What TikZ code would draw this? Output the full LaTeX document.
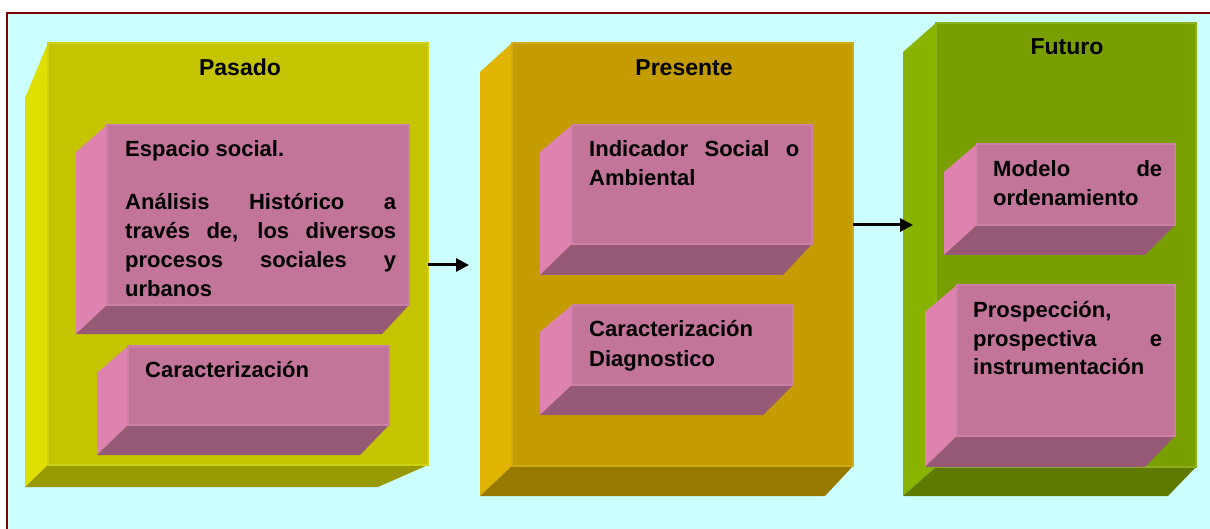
\documentclass[tikz,border=0pt]{standalone}
\usepackage{fontspec}
\setmainfont{Liberation Sans}
\usetikzlibrary{arrows.meta}

% panel colours: F front, L left side, B bottom, E front rim
\definecolor{pasF}{RGB}{196,196,0}
\definecolor{pasL}{RGB}{224,224,0}
\definecolor{pasB}{RGB}{153,153,0}
\definecolor{pasE}{RGB}{208,208,20}
\definecolor{preF}{RGB}{196,156,0}
\definecolor{preL}{RGB}{224,180,0}
\definecolor{preB}{RGB}{153,122,0}
\definecolor{preE}{RGB}{208,170,20}
\definecolor{futF}{RGB}{120,158,0}
\definecolor{futL}{RGB}{136,180,0}
\definecolor{futB}{RGB}{94,122,0}
\definecolor{futE}{RGB}{140,176,30}
\definecolor{pnkF}{RGB}{194,116,153}
\definecolor{pnkL}{RGB}{222,131,176}
\definecolor{pnkB}{RGB}{150,90,118}
\definecolor{pnkE}{RGB}{204,128,165}
\definecolor{skyBg}{RGB}{204,255,255}
\definecolor{frameRed}{RGB}{128,0,0}

% a slab: front face plus left and bottom sides
% geometry: front x1/y1/x2/y2, back left x / diagonal end y, back right x / back bottom y
\newcommand\slab[3]{%
  \foreach \xa/\ya/\xb/\yb/\xl/\yl/\xr/\yr in {#3}{%
    \fill[#2L] (\xa,\ya) -- (\xl,\yl) -- (\xl,\yr) -- (\xa,\yb) -- cycle;
    \fill[#2B] (\xa,\yb) -- (\xl,\yr) -- (\xr,\yr) -- (\xb,\yb) -- cycle;
    \node[face, fill=#2F, draw=#2E, minimum width={\xb-\xa}, minimum height={\yb-\ya}]
      (#1) at ({(\xa+\xb)/2},{(\ya+\yb)/2}) {};
  }}

\begin{document}
\begin{tikzpicture}[x=1pt,y=-1pt,
  face/.style={rectangle, inner sep=0pt, outer sep=0pt, line width=1.5pt},
  title/.style={anchor=base, inner sep=0pt, font=\fontsize{23}{28}\selectfont\bfseries},
  body/.style={anchor=base west, inner sep=0pt, font=\fontsize{22}{29}\selectfont\bfseries},
  arr/.style={line width=3pt, -{Triangle[length=13pt,width=13pt]}}]

% page and frame
\fill[white] (0,0) rectangle (1210,529);
\useasboundingbox (0,0) rectangle (1210,529);
\fill[skyBg] (8,14) rectangle (1210,529);
\draw[frameRed, line width=2.5pt] (7,529) -- (7,13) -- (1210,13);

% three stages
\slab{pas}{pas}{48/43/428/465/25/98/378/487}
\slab{pre}{pre}{512/43/853/466/480/72/825/496}
\slab{fut}{fut}{936/23/1196/467/903/52/1168/496}

% inner blocks
\slab{esp}{pnk}{107/125/409/305/76/152/382/334}
\slab{car}{pnk}{128/346/389/425/97/373/360/455}
\slab{ind}{pnk}{572/125/812/244/540/152/783/275}
\slab{dia}{pnk}{572/305/793/385/540/332/763/415}
\slab{mod}{pnk}{977/144/1175/225/944/172/1145/255}
\slab{pro}{pnk}{957/285/1175/436/925/312/1145/467}

% titles
\node[title] (tpas) at (240,76) {Pasado};
\node[title] (tpre) at (684,76) {Presente};
\node[title] (tfut) at (1067,55) {Futuro};

% block texts
\node[body] (xesp) at (125,157) {\parbox[t]{271pt}{Espacio social.\\[24pt]
  \makebox[271pt][s]{Análisis Histórico a}\\
  \makebox[271pt][s]{través de, los diversos}\\
  \makebox[271pt][s]{procesos sociales y}\\
  urbanos}};
\node[body] (xcar) at (145,377) {Caracterización};
\node[body] (xind) at (589,157) {\parbox[t]{210pt}{%
  \makebox[210pt][s]{Indicador Social o}\\
  Ambiental}};
\node[body] (xdia) at (589,337) {\parbox[t]{210pt}{Caracterización\\
  Diagnostico}};
\node[body] (xmod) at (993,177) {\parbox[t]{169pt}{%
  \makebox[169pt][s]{Modelo de}\\
  ordenamiento}};
\node[body] (xpro) at (973,317) {\parbox[t]{189pt}{Prospección,\\
  \makebox[189pt][s]{prospectiva e}\\
  instrumentación}};

% connectors
\coordinate (in1) at (469,265);
\coordinate (in2) at (913,225);
\draw[arr] (pas.east |- in1) -- (in1);
\draw[arr] (pre.east |- in2) -- (in2);
\end{tikzpicture}
\end{document}
